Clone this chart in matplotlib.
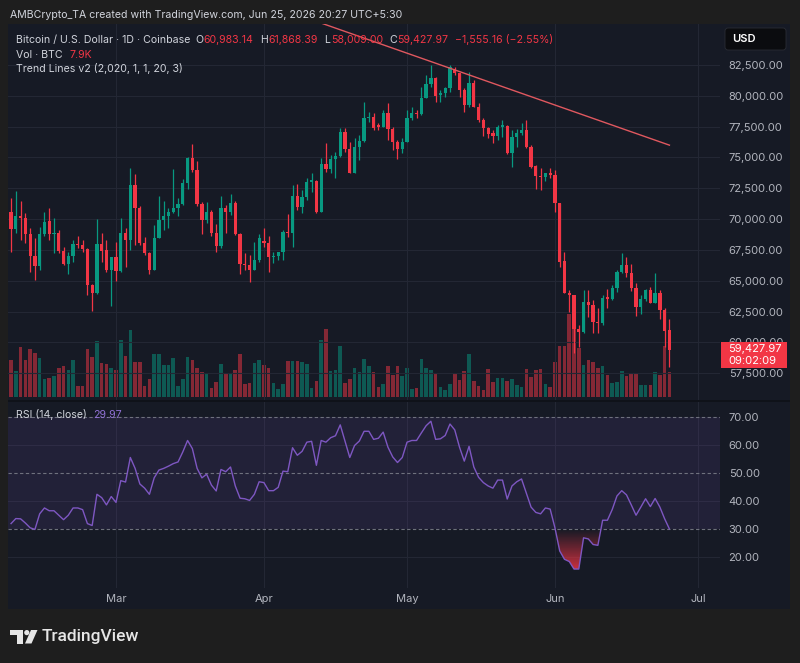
import numpy as np
import pandas as pd
import matplotlib
matplotlib.use('Agg')
import matplotlib.pyplot as plt
import matplotlib.dates as mdates
from matplotlib.patches import Rectangle, FancyBboxPatch, Polygon, Circle
from matplotlib.path import Path
from matplotlib.colors import LinearSegmentedColormap

plt.rcParams['font.family'] = ['Inter', 'DejaVu Sans']

# BTC/USD daily, Coinbase, Feb 7 - Jun 25 2026
dates = pd.date_range('2026-02-07', '2026-06-25', freq='D')

opens = [70550, 69210, 70280, 70090, 68800, 67000, 66180, 68800, 69810, 68800,
         68860, 67440, 66400, 67000, 67980, 67900, 67570, 64630, 64000, 67980,
         67490, 65850, 66950, 65770, 68860, 68310, 72730, 70900, 68090, 67270,
         65910, 68450, 69950, 70220, 70550, 70900, 71260, 72900, 74920, 73990,
         71260, 69950, 70550, 68910, 67820, 70900, 70550, 71310, 68800, 66400,
         66290, 65910, 66670, 68230, 68090, 66950, 67010, 67310, 68990, 68850,
         71880, 71010, 71820, 73040, 73120, 70610, 74450, 74040, 74860, 75120,
         77090, 75660, 73770, 75820, 76340, 78180, 78260, 77630, 77500, 78630,
         77280, 76280, 75660, 76280, 78180, 78630, 78530, 79800, 80960, 81420,
         80070, 80200, 80610, 82150, 81820, 80470, 79260, 81070, 79120, 78040,
         77360, 76960, 76740, 77500, 77550, 75390, 76630, 76960, 77230, 75820,
         74310, 73500, 73390, 73710, 73580, 71280, 66630, 64040, 63850, 61060,
         60880, 63310, 63040, 61690, 61550, 63660, 63500, 64390, 65740, 66280,
         65610, 64390, 62900, 63500, 64260, 63230, 63990, 62630, 60983.14]
highs = [71720, 72270, 71450, 70500, 69270, 68450, 69400, 70550, 70900, 70090,
         69130, 67770, 67360, 68310, 68640, 68310, 67630, 64760, 70000, 68860,
         68310, 66950, 68170, 70090, 69270, 74180, 73630, 71040, 68580, 67350,
         69540, 71860, 71450, 70900, 74040, 71720, 73280, 75000, 76090, 74730,
         71370, 71370, 70770, 69620, 71860, 71180, 72080, 71450, 68860, 67220,
         67080, 68170, 68800, 69260, 68630, 67360, 67360, 69120, 70420, 72770,
         72850, 72360, 73310, 73720, 73170, 74930, 76150, 75200, 75470, 77400,
         77360, 76280, 76550, 76820, 79530, 78720, 78580, 77770, 78850, 79450,
         77500, 76420, 76550, 78850, 79120, 78850, 80740, 81690, 82500, 81550,
         80470, 80740, 82500, 82360, 81820, 80610, 81960, 81280, 79390, 78180,
         77500, 77230, 77630, 78040, 77630, 77230, 77280, 77820, 78040, 76010,
         74390, 74120, 73770, 74120, 73990, 71340, 67360, 64250, 63850, 61420,
         64250, 64250, 63440, 62770, 63850, 64310, 64660, 65880, 67230, 66900,
         66360, 64800, 63850, 64310, 64470, 65610, 64260, 62770, 61868.39]
lows = [67360, 68860, 68310, 68040, 65720, 65040, 65850, 68640, 68310, 67270,
        67220, 66260, 65580, 66540, 67630, 67360, 63810, 62580, 63940, 66540,
        65720, 62990, 64980, 65720, 66130, 67490, 67900, 67900, 67080, 65580,
        65850, 68450, 69130, 69270, 70500, 70280, 71180, 72410, 73830, 71040,
        68800, 69680, 68640, 67360, 67630, 68860, 70360, 68720, 65530, 65910,
        64900, 65850, 66500, 67770, 65740, 66420, 66690, 66690, 68580, 67770,
        70740, 70470, 71550, 72230, 70470, 70610, 73860, 73720, 73310, 75070,
        75470, 73720, 73720, 74800, 76280, 77900, 77230, 77230, 77500, 76420,
        75610, 74850, 75340, 76280, 78040, 78180, 78450, 79800, 80740, 79530,
        79530, 79930, 80340, 81690, 79930, 78720, 79120, 79120, 77900, 76740,
        76550, 76150, 76420, 76690, 75280, 74200, 75820, 76820, 75740, 74120,
        72420, 72360, 73120, 73310, 70610, 66150, 63990, 62500, 59120, 59600,
        60740, 62090, 60790, 60740, 61420, 62770, 63440, 64120, 65610, 65340,
        64200, 62150, 62310, 63390, 63170, 63170, 61880, 59660, 58009.00]
closes = [69210, 70280, 70090, 68800, 67000, 66180, 68800, 69730, 68800, 68860,
          67440, 66400, 67000, 67980, 67870, 67570, 64630, 64000, 67980, 67440,
          65850, 66950, 65770, 68860, 68310, 72730, 70900, 68090, 67270, 65910,
          68450, 69950, 70220, 70550, 70900, 71260, 72900, 74920, 73990, 71260,
          69950, 70550, 68910, 67820, 70900, 70550, 71310, 68800, 66350, 66260,
          65910, 66670, 68450, 68090, 66900, 67010, 67310, 68990, 68850, 71880,
          71010, 71820, 73040, 73200, 70610, 74450, 74040, 74860, 75120, 77090,
          75660, 73770, 75820, 76340, 78180, 78310, 77360, 77500, 78630, 77280,
          76280, 75660, 76280, 78180, 78630, 78530, 79800, 80960, 81420, 79990,
          80200, 80610, 82310, 81820, 80470, 79260, 81070, 79120, 78040, 77360,
          76900, 76740, 77500, 77630, 75390, 76630, 76960, 77230, 75820, 74200,
          73500, 73390, 73770, 73580, 71280, 66550, 64040, 63850, 61060, 60880,
          63310, 63040, 61690, 61550, 63580, 63500, 64390, 65740, 66280, 65610,
          64390, 62900, 63500, 64260, 63230, 63990, 62630, 60960, 59427.97]

# volume, thousands of BTC
volume_k = [11.6, 8.2, 15.8, 11.7, 15.2, 13.9, 12.3, 5.7, 6.0, 6.6,
            9.2, 9.8, 8.5, 11.7, 3.5, 3.5, 15.2, 12.6, 17.7, 10.7,
            10.4, 9.2, 8.5, 18.0, 13.0, 21.2, 11.1, 11.1, 3.5, 5.7,
            13.6, 13.6, 10.1, 10.1, 12.3, 3.5, 5.7, 12.6, 11.7, 9.2,
            7.9, 7.3, 2.8, 4.7, 10.4, 7.3, 7.6, 8.5, 13.6, 4.1,
            4.4, 10.7, 11.7, 10.1, 9.2, 4.4, 2.5, 4.1, 11.4, 11.4,
            11.4, 11.1, 10.4, 2.8, 5.1, 18.0, 21.5, 8.2, 8.5, 16.1,
            4.4, 5.7, 9.2, 7.9, 12.0, 9.8, 7.9, 3.2, 4.1, 9.8,
            7.0, 9.8, 6.6, 9.2, 2.5, 2.8, 12.0, 9.2, 8.5, 7.3,
            3.2, 2.2, 4.1, 7.3, 5.4, 8.2, 13.6, 5.1, 3.5, 2.2,
            8.8, 4.7, 6.0, 6.0, 5.1, 5.7, 3.8, 3.2, 8.8, 6.3,
            8.5, 8.8, 4.1, 3.2, 11.1, 16.1, 16.1, 26.2, 26.2, 15.5,
            10.1, 11.7, 11.1, 9.2, 9.8, 7.0, 4.4, 4.7, 8.2, 6.6,
            7.6, 7.3, 3.8, 3.8, 3.8, 7.9, 7.0, 16.1, 7.9]

rsi = [31.9, 33.7, 33.6, 32.1, 30.4, 29.8, 35.4, 37.5, 36.5, 36.5,
       34.9, 33.3, 34.9, 37.5, 37.5, 36.9, 31.9, 31.2, 42.4, 41.2,
       38.6, 41.6, 39.5, 47.3, 46.8, 55.6, 51.7, 46.1, 44.6, 42.4,
       48.3, 51.1, 51.7, 52.5, 53.4, 54.0, 57.6, 61.7, 58.8, 51.7,
       48.3, 49.6, 45.7, 43.6, 51.3, 50.5, 52.2, 45.4, 41.0, 40.8,
       40.2, 42.4, 46.9, 46.6, 43.7, 43.7, 44.9, 50.7, 50.5, 59.1,
       56.4, 57.8, 61.1, 61.4, 52.8, 61.7, 61.1, 62.7, 63.4, 67.3,
       61.5, 55.6, 59.9, 61.5, 65.0, 65.0, 62.1, 62.5, 64.7, 59.3,
       55.8, 53.8, 55.6, 61.1, 61.7, 61.7, 64.4, 67.0, 68.6, 62.1,
       62.3, 63.5, 67.6, 65.5, 59.3, 54.3, 59.6, 52.2, 48.5, 46.6,
       45.4, 44.6, 47.5, 47.5, 40.7, 45.4, 46.9, 47.9, 42.8, 37.8,
       35.9, 35.4, 37.5, 37.1, 30.4, 22.1, 19.1, 18.3, 15.6, 15.6,
       26.8, 26.4, 24.4, 24.1, 33.1, 33.1, 36.9, 41.8, 43.7, 42.2,
       38.6, 34.9, 37.8, 40.8, 38.0, 40.9, 37.8, 33.6, 29.97]

trend_dates = ['2026-04-13', '2026-06-25']
trend_prices = [85900, 76000]

price_ticks = [57500, 60000, 62500, 65000, 67500, 70000, 72500, 75000, 77500, 80000, 82500]
rsi_ticks = [20, 30, 40, 50, 60, 70]
month_starts = ['2026-03-01', '2026-04-01', '2026-05-01', '2026-06-01', '2026-07-01']
month_labels = ['Mar', 'Apr', 'May', 'Jun', 'Jul']

UP = '#089981'
DOWN = '#f23645'
PANEL = '#161a25'
OUTER = '#1e1e1e'
TXT = '#d1d4dc'
AXTXT = '#b2b5be'
GRID = '#232734'
RSI_COL = '#7e57c2'

W, H = 800, 663
fig = plt.figure(figsize=(W / 100, H / 100), dpi=100, facecolor=OUTER)


def rect(l, t, r, b):
    return [l / W, 1 - b / H, (r - l) / W, (b - t) / H]


# background layer in pixel coords
bg = fig.add_axes([0, 0, 1, 1], zorder=0)
bg.set_xlim(0, W)
bg.set_ylim(H, 0)
bg.axis('off')
bg.add_patch(Rectangle((8, 24), 782, 585, color=PANEL, lw=0))
bg.add_patch(Rectangle((8, 400), 782, 2, color='#0f1219', lw=0))

x = mdates.date2num(dates)
o = np.array(opens)
h = np.array(highs)
l = np.array(lows)
c = np.array(closes)
up = c >= o
cols = np.where(up, UP, DOWN)
x0 = mdates.date2num(pd.Timestamp('2026-03-01'))
xlim = (x0 - 22.64, x0 + 126.6)
month_x = mdates.date2num(pd.to_datetime(month_starts))

# volume pane (behind candles)
vax = fig.add_axes(rect(8, 24, 720, 400), zorder=1)
vax.patch.set_visible(False)
vax.bar(x, volume_k, width=0.75, color=cols, alpha=0.5, lw=0)
vax.set_ylim(-0.9, 118)
vax.set_xlim(*xlim)
vax.axis('off')

# price pane
ax = fig.add_axes(rect(8, 24, 720, 400), zorder=2)
ax.patch.set_visible(False)
ax.vlines(x, l, h, colors=cols, lw=0.9, zorder=3)
ax.bar(x, np.maximum(np.abs(c - o), 70), bottom=np.minimum(o, c), width=0.68,
       color=cols, lw=0, zorder=4)
ax.plot(mdates.date2num(pd.to_datetime(trend_dates)), trend_prices,
        color='#e0585f', lw=1.0, zorder=5)
ax.set_xlim(*xlim)
ax.set_ylim(55335, 85825)
ax.set_yticks(price_ticks)
ax.set_yticklabels([f'{v:,.2f}' for v in price_ticks])
ax.yaxis.tick_right()
ax.set_xticks(month_x)
ax.tick_params(axis='y', length=0, pad=6.2, labelsize=8, labelcolor=AXTXT)
ax.tick_params(axis='x', length=0, labelbottom=False)
ax.grid(True, color=GRID, lw=0.8)
ax.set_axisbelow(True)
for s in ax.spines.values():
    s.set_visible(False)

# RSI pane
ax2 = fig.add_axes(rect(8, 402, 720, 588), zorder=2)
ax2.patch.set_visible(False)
ax2.axhspan(30, 70, color=RSI_COL, alpha=0.12, lw=0, zorder=1)
for lvl in [30, 50, 70]:
    ax2.axhline(lvl, color='#787b86', lw=0.8, ls=(0, (3, 2.2)), alpha=0.9, zorder=2)
rsi_arr = np.array(rsi)
fb = ax2.fill_between(x, rsi_arr, 30, where=rsi_arr < 30, interpolate=True,
                      facecolor='none', edgecolor='none')
clip = Path.make_compound_path(*fb.get_paths())
cmap = LinearSegmentedColormap.from_list('os', [(0.95, 0.21, 0.27, 0.85), (0.95, 0.21, 0.27, 0.0)])
im = ax2.imshow(np.linspace(0, 1, 128).reshape(-1, 1), extent=[x[0], x[-1], 15, 30],
                origin='lower', aspect='auto', cmap=cmap, zorder=2)
im.set_clip_path(clip, transform=ax2.transData)
ax2.plot(x, rsi_arr, color=RSI_COL, lw=1.0, zorder=3)
ax2.set_xlim(*xlim)
ax2.set_ylim(8.8, 75.5)
ax2.set_yticks(rsi_ticks)
ax2.set_yticklabels([f'{v:.2f}' for v in rsi_ticks])
ax2.yaxis.tick_right()
ax2.set_xticks(month_x)
ax2.set_xticklabels(month_labels)
ax2.tick_params(axis='y', length=0, pad=6.2, labelsize=8, labelcolor=AXTXT)
ax2.tick_params(axis='x', length=0, pad=4.5, labelsize=8, labelcolor=AXTXT)
ax2.grid(True, color=GRID, lw=0.8)
for g in ax2.get_ygridlines():
    if g.get_ydata()[0] in (30, 50, 70):
        g.set_visible(False)
ax2.set_axisbelow(True)
for s in ax2.spines.values():
    s.set_visible(False)

# overlay texts in pixel coords
top = fig.add_axes([0, 0, 1, 1], zorder=5)
top.set_xlim(0, W)
top.set_ylim(H, 0)
top.axis('off')
top.patch.set_visible(False)

fs = 7.6


def chain(px, py, parts):
    # parts: (gap in px before the piece, text, colour); pieces placed left to right
    t = top.text(px, py, parts[0][1], color=parts[0][2], fontsize=fs, va='bottom')
    for gap, s, col in parts[1:]:
        t = top.annotate(s, xy=(1, 0), xycoords=t, xytext=(gap, 0),
                         textcoords='offset pixels', color=col, fontsize=fs,
                         va='bottom', ha='left')
    return t


top.text(10, 14.5, 'AMBCrypto_TA created with TradingView.com, Jun 25, 2026 20:27 UTC+5:30',
         color=TXT, fontsize=fs, va='center')

chain(16.5, 45, [(0, 'Bitcoin / U.S. Dollar · 1D · Coinbase', TXT), (4, 'O', TXT),
                 (0.5, '60,983.14', DOWN), (6.5, 'H', TXT), (0.5, '61,868.39', DOWN),
                 (7, 'L', TXT), (0.5, '58,009.00', DOWN), (6, 'C', TXT),
                 (0.5, '59,427.97', DOWN), (6.5, '−1,555.16 (−2.55%)', DOWN)])
chain(16.5, 60, [(0, 'Vol · BTC', TXT), (6, '7.9K', DOWN)])
top.text(16.5, 68.5, 'Trend Lines v2 (2,020, 1, 1, 20, 3)', color=TXT, fontsize=fs, va='center')
chain(16.5, 420, [(0, 'RSI (14, close)', TXT), (6, '29.97', '#9071d4')])

# currency badge
top.add_patch(FancyBboxPatch((725, 28), 61, 22, boxstyle='round,pad=0,rounding_size=3',
                             fc='#0b0c0f', ec='#2a2d35', lw=0.6))
top.text(732, 39.5, 'USD', color='#ffffff', fontsize=8, fontweight='semibold', va='center')

# last price badge
top.add_patch(Rectangle((721, 342), 66, 26, color=DOWN, lw=0))
top.text(728.5, 349.5, '59,427.97', color='white', fontsize=8, va='center')
top.text(728.5, 361, '09:02:09', color='white', fontsize=8, va='center')

# TradingView logo
lg = '#e6e6e6'
top.add_patch(Polygon([(10, 630), (23, 630), (23, 643.5), (17, 643.5), (17, 635), (10, 635)],
                      closed=True, color=lg, lw=0))
top.add_patch(Circle((26.8, 632.6), 2.6, color=lg, lw=0))
top.add_patch(Polygon([(31, 630), (37.5, 630), (31.5, 643.5), (25, 643.5)], closed=True,
                      color=lg, lw=0))
top.text(42, 637, 'TradingView', color=lg, fontsize=12.5, fontweight='medium',
         family=['Roboto', 'DejaVu Sans'], va='center')

fig.savefig('out.png', dpi=100, facecolor=OUTER)
